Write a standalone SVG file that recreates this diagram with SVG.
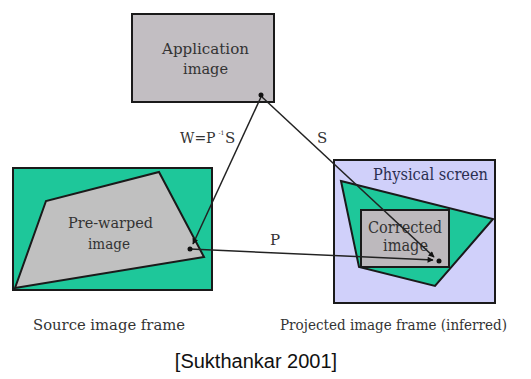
<svg xmlns="http://www.w3.org/2000/svg" width="531" height="379" viewBox="0 0 531 379">
  <style>
    .frame { stroke: #1a1a1a; stroke-width: 2; }
    .lbl { font-family: 'DejaVu Serif', 'Liberation Serif', serif; fill: #333; font-size: 15px; }
    .edge { stroke: #222; stroke-width: 1.5; fill: none; }
    .dot { fill: #111; }
  </style>
  <defs>
    <marker id="arrow" viewBox="0 0 10 10" refX="9" refY="5" markerWidth="7" markerHeight="6" markerUnits="userSpaceOnUse" orient="auto">
      <path d="M0,0 L10,5 L0,10 z" fill="#111"/>
    </marker>
  </defs>

  <rect width="531" height="379" fill="#ffffff"/>

  <!-- application image -->
  <g id="application">
    <rect class="frame" x="132" y="14" width="142" height="88" fill="#c2bec2"/>
    <text class="lbl" x="162" y="54" textLength="87" lengthAdjust="spacingAndGlyphs">Application</text>
    <text class="lbl" x="183" y="74" textLength="45" lengthAdjust="spacingAndGlyphs">image</text>
  </g>

  <!-- source image frame with pre-warped image -->
  <g id="source">
    <rect class="frame" x="13" y="168" width="199" height="122" fill="#1ec79a"/>
    <polygon class="frame" points="15,288 46,201 159,172 204,257" fill="#c0c0c0"/>
    <text class="lbl" x="68" y="228" textLength="85" lengthAdjust="spacingAndGlyphs">Pre-warped</text>
    <text class="lbl" x="88" y="249" textLength="42" lengthAdjust="spacingAndGlyphs">image</text>
    <text class="lbl" x="33" y="330" style="font-size:14px" textLength="152" lengthAdjust="spacingAndGlyphs">Source image frame</text>
  </g>

  <!-- projected frame: physical screen, projection, corrected image -->
  <g id="projected">
    <rect class="frame" x="334" y="160" width="161" height="143" fill="#d0d0fa"/>
    <text class="lbl" x="373" y="180" style="font-size:16px;fill:#2b2e50" textLength="115" lengthAdjust="spacingAndGlyphs">Physical screen</text>
    <polygon class="frame" points="341,181 493,219 435,286 359,267" fill="#1ec79a"/>
    <rect class="frame" x="361" y="210" width="88" height="57" fill="#bdb9bd"/>
    <text class="lbl" x="368" y="233" style="font-size:16px" textLength="74" lengthAdjust="spacingAndGlyphs">Corrected</text>
    <text class="lbl" x="383" y="251" style="font-size:16px" textLength="45" lengthAdjust="spacingAndGlyphs">image</text>
    <text class="lbl" x="280" y="330" style="font-size:14px" textLength="227" lengthAdjust="spacingAndGlyphs">Projected image frame (inferred)</text>
  </g>

  <!-- mappings between the frames -->
  <g id="connectors">
    <path class="edge" d="M261,97 L193,244" marker-end="url(#arrow)"/>
    <path class="edge" d="M262,97 L434,257" marker-end="url(#arrow)"/>
    <path class="edge" d="M190,249 L433,260" marker-end="url(#arrow)"/>
    <circle class="dot" cx="261" cy="95" r="2.5"/>
    <circle class="dot" cx="190" cy="249" r="2.5"/>
    <circle class="dot" cx="439" cy="261" r="2.5"/>
    <!-- W = P^-1 S -->
    <text class="lbl" x="180" y="143" style="font-size:14px">W=P</text>
    <text class="lbl" x="218.5" y="135" style="font-size:6px">-1</text>
    <text class="lbl" x="225" y="143">S</text>
    <text class="lbl" x="317" y="143">S</text>
    <text class="lbl" x="270" y="245">P</text>
  </g>

  <text x="256" y="368" text-anchor="middle" font-family="Liberation Sans, Arial, sans-serif" font-size="20" fill="#111">[Sukthankar 2001]</text>
</svg>
